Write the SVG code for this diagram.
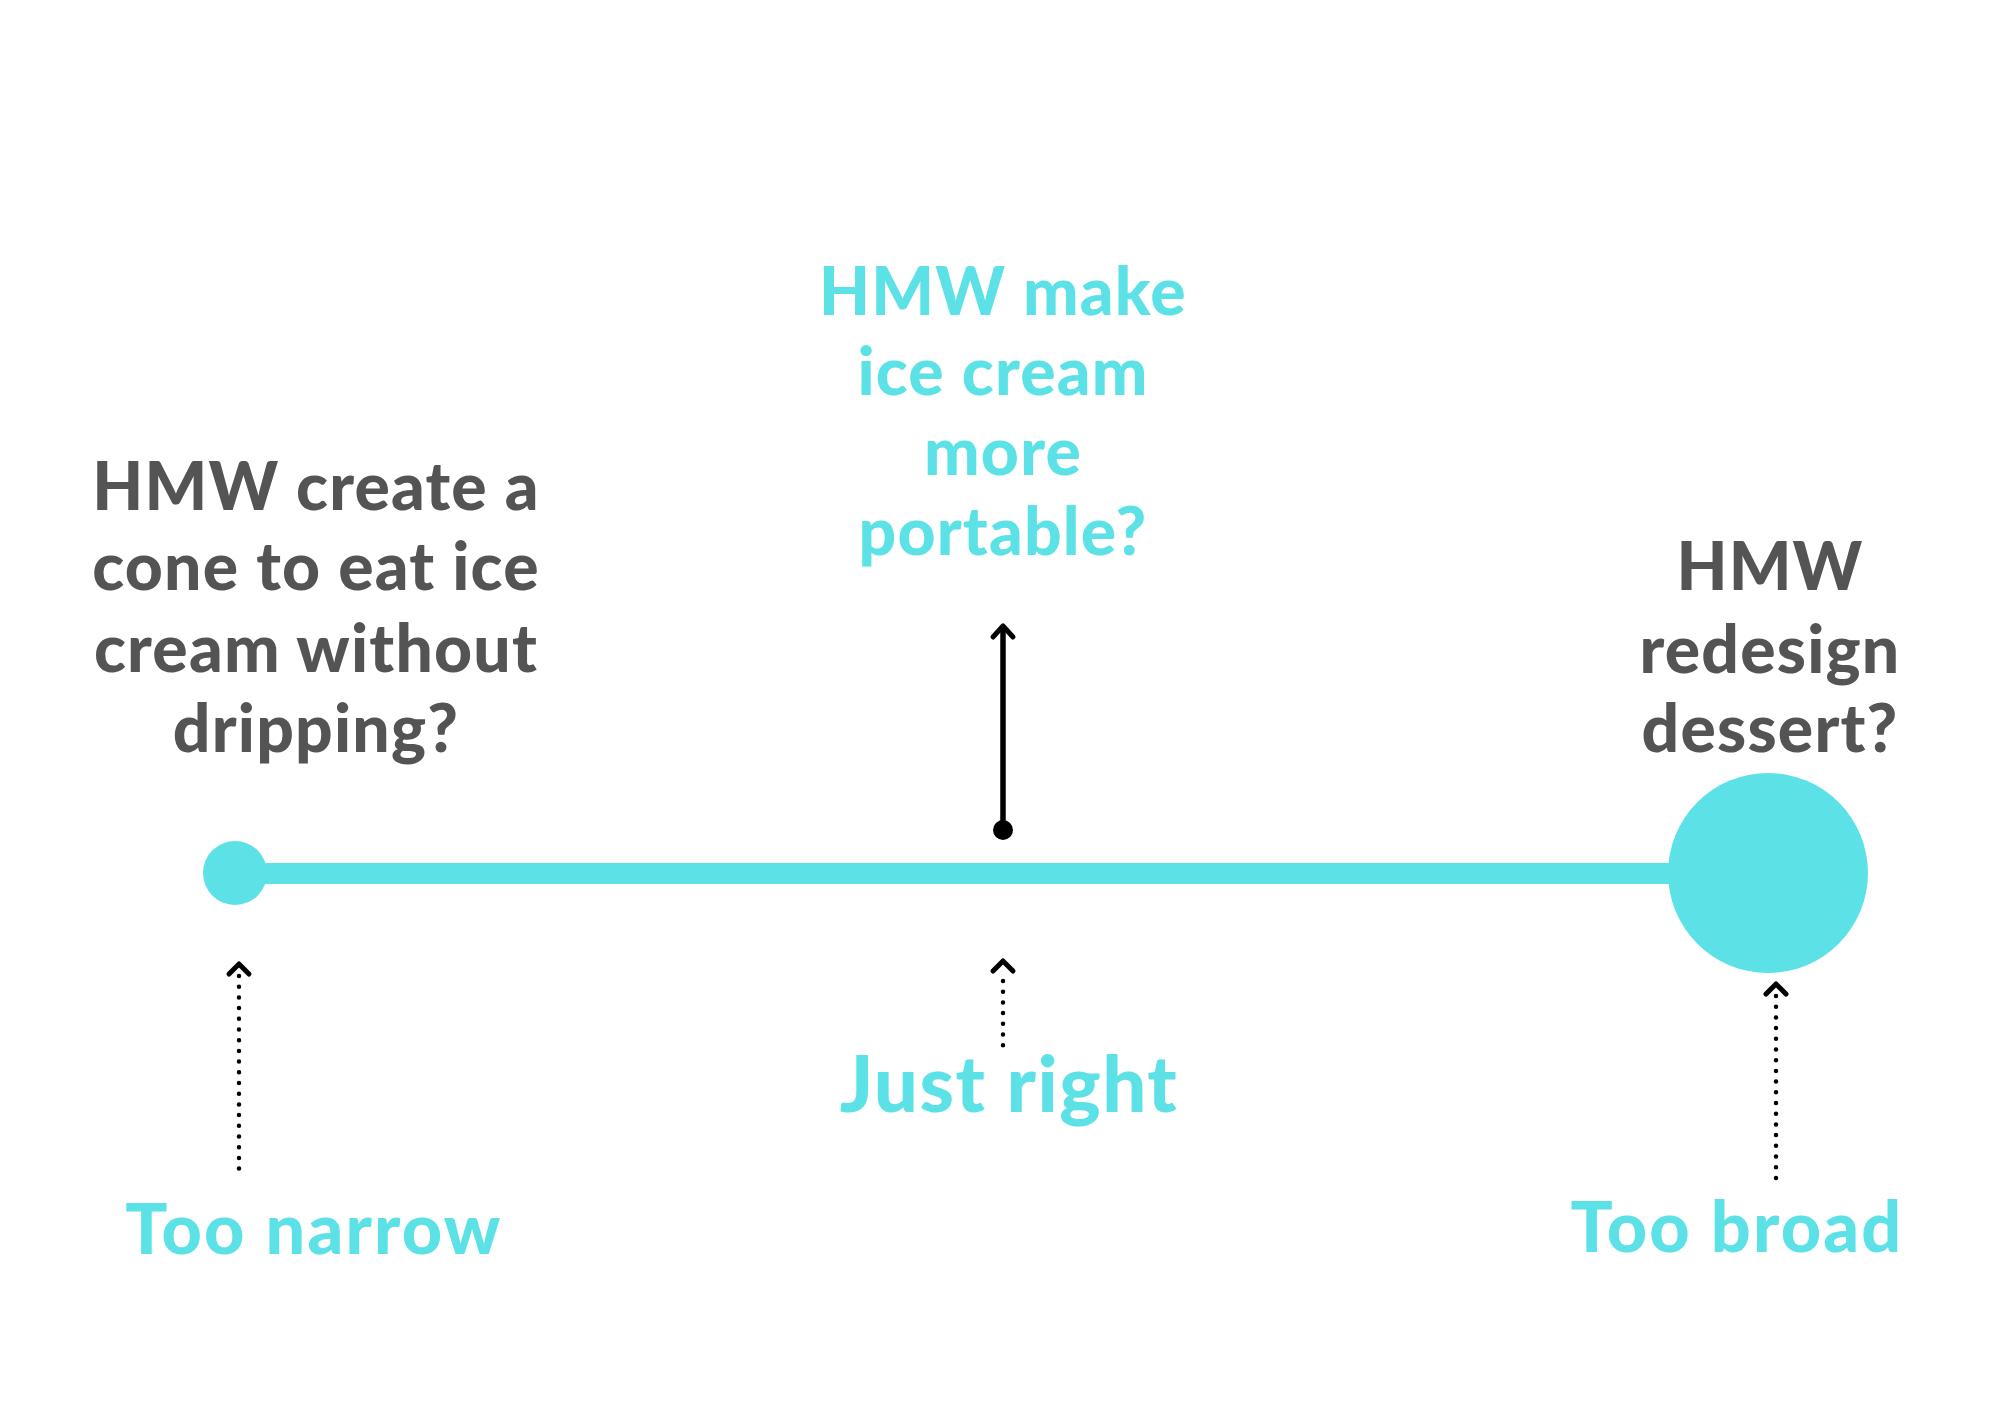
<svg xmlns="http://www.w3.org/2000/svg" width="2000" height="1414" viewBox="0 0 2000 1414">
<style>
.t{font-family:Lato,"Noto Sans","Liberation Sans",sans-serif;font-weight:900;text-anchor:middle;letter-spacing:1.2px}
.gray{fill:#545454;font-size:66px}
.cyan{fill:#5CE1E6;font-size:66px}
.lbl{fill:#5CE1E6;font-size:70px;letter-spacing:2.2px}
.dot{stroke:#000;stroke-width:4.5;stroke-linecap:round;stroke-dasharray:0 10.7;fill:none}
.chev{stroke:#000;stroke-width:5;stroke-linecap:round;stroke-linejoin:round;fill:none}
</style>
<rect width="2000" height="1414" fill="#fff"/>
<g id="connectors">
<line x1="235" y1="873.5" x2="1768" y2="873.5" stroke="#5CE1E6" stroke-width="21"/>
<g id="arrow-main">
<line x1="1003" y1="830" x2="1003" y2="627" stroke="#000" stroke-width="5.5"/>
<polyline class="chev" points="993,637 1003,626 1013,637"/>
<circle cx="1003" cy="830" r="10" fill="#000"/>
</g>
<g id="arrow-narrow">
<line class="dot" x1="239" y1="976" x2="239" y2="1178"/>
<polyline class="chev" points="229,974 239,964 249,974"/>
</g>
<g id="arrow-right">
<line class="dot" x1="1003" y1="981" x2="1003" y2="1046"/>
<polyline class="chev" points="993,971 1003,961 1013,971"/>
</g>
<g id="arrow-broad">
<line class="dot" x1="1776" y1="996" x2="1776" y2="1187"/>
<polyline class="chev" points="1766,994 1776,984 1786,994"/>
</g>
</g>
<g id="node-narrow-point"><circle cx="235" cy="873" r="32" fill="#5CE1E6"/></g>
<g id="node-broad-point"><circle cx="1768" cy="873" r="100" fill="#5CE1E6"/></g>
<g id="node-narrow-text">
<text class="t gray" x="316" y="510">HMW create a</text>
<text class="t gray" x="316" y="590">cone to eat ice</text>
<text class="t gray" x="316" y="672">cream without</text>
<text class="t gray" x="316" y="752">dripping?</text>
</g>
<g id="node-right-text">
<text class="t cyan" x="1003" y="315">HMW make</text>
<text class="t cyan" x="1003" y="395">ice cream</text>
<text class="t cyan" x="1003" y="475">more</text>
<text class="t cyan" x="1003" y="555">portable?</text>
</g>
<g id="node-broad-text">
<text class="t gray" x="1770" y="590">HMW</text>
<text class="t gray" x="1770" y="673">redesign</text>
<text class="t gray" x="1770" y="752">dessert?</text>
</g>
<g id="label-narrow"><text class="t lbl" x="314" y="1254">Too narrow</text></g>
<g id="label-right"><text class="t lbl" x="1009" y="1112" style="font-size:78px;letter-spacing:1.5px">Just right</text></g>
<g id="label-broad"><text class="t lbl" x="1737" y="1252">Too broad</text></g>
</svg>
